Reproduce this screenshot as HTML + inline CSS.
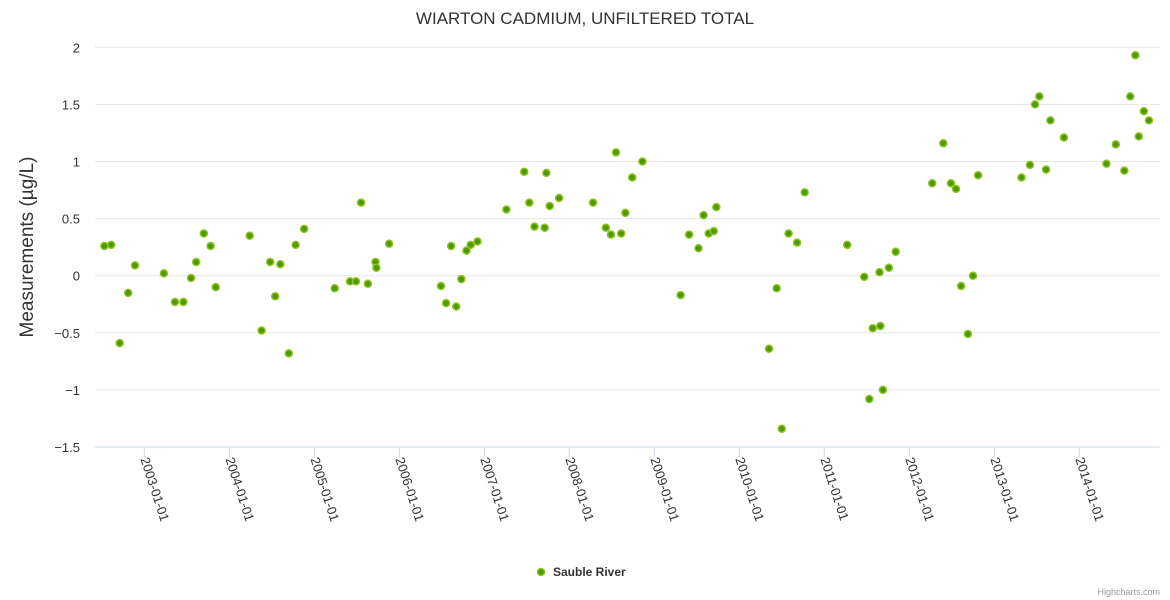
<!DOCTYPE html>
<html><head><meta charset="utf-8"><style>
html,body{margin:0;padding:0;background:#fff;width:1170px;height:600px;overflow:hidden}
svg{font-family:"Liberation Sans",Arial,sans-serif}
</style></head><body>
<svg id="chart" width="1170" height="600" xmlns="http://www.w3.org/2000/svg">
<text x="585" y="24" text-anchor="middle" font-size="17" fill="#333">WIARTON CADMIUM, UNFILTERED TOTAL</text>
<g id="grid"></g>
<g id="yaxis"></g>
<g id="xaxis"></g>
<text transform="translate(33,247) rotate(-90)" text-anchor="middle" font-size="19" fill="#333">Measurements (µg/L)</text>
<g id="points"></g>
<g>
<circle cx="541" cy="572" r="3.5" fill="#4c9a00" stroke="#8ec21f" stroke-width="1.5"/>
<text x="553" y="576" font-size="12" font-weight="bold" fill="#333">Sauble River</text>
</g>
<text x="1160" y="595" text-anchor="end" font-size="9" fill="#999">Highcharts.com</text>
</svg>
<script>
const dates=[2002.53,2002.61,2002.71,2002.81,2002.89,2003.23,2003.36,2003.46,2003.55,2003.61,2003.70,2003.78,2003.84,2004.24,2004.38,2004.48,2004.54,2004.60,2004.70,2004.78,2004.88,2005.24,2005.42,2005.49,2005.55,2005.63,2005.72,2005.73,2005.88,2006.49,2006.55,2006.61,2006.67,2006.73,2006.79,2006.84,2006.92,2007.26,2007.47,2007.53,2007.59,2007.71,2007.73,2007.77,2007.88,2008.28,2008.43,2008.49,2008.55,2008.61,2008.66,2008.74,2008.86,2009.31,2009.41,2009.52,2009.58,2009.64,2009.70,2009.73,2010.35,2010.44,2010.50,2010.58,2010.68,2010.77,2011.27,2011.47,2011.53,2011.57,2011.66,2011.65,2011.69,2011.76,2011.84,2012.27,2012.40,2012.49,2012.55,2012.61,2012.69,2012.75,2012.81,2013.32,2013.42,2013.48,2013.53,2013.61,2013.66,2013.82,2014.32,2014.43,2014.53,2014.60,2014.66,2014.70,2014.76,2014.82];
const values=[0.26,0.27,-0.59,-0.15,0.09,0.02,-0.23,-0.23,-0.02,0.12,0.37,0.26,-0.10,0.35,-0.48,0.12,-0.18,0.10,-0.68,0.27,0.41,-0.11,-0.05,-0.05,0.64,-0.07,0.12,0.07,0.28,-0.09,-0.24,0.26,-0.27,-0.03,0.22,0.27,0.30,0.58,0.91,0.64,0.43,0.42,0.90,0.61,0.68,0.64,0.42,0.36,1.08,0.37,0.55,0.86,1.00,-0.17,0.36,0.24,0.53,0.37,0.39,0.60,-0.64,-0.11,-1.34,0.37,0.29,0.73,0.27,-0.01,-1.08,-0.46,-0.44,0.03,-1.00,0.07,0.21,0.81,1.16,0.81,0.76,-0.09,-0.51,0.00,0.88,0.86,0.97,1.50,1.57,0.93,1.36,1.21,0.98,1.15,0.92,1.57,1.93,1.22,1.44,1.36];
const yTicks=[2,1.5,1,0.5,0,-0.5,-1,-1.5];
const yTickLabels=["2","1.5","1","0.5","0","−0.5","−1","−1.5"];
const xTicks=[2003,2004,2005,2006,2007,2008,2009,2010,2011,2012,2013,2014];
const xTickLabels=["2003-01-01","2004-01-01","2005-01-01","2006-01-01","2007-01-01","2008-01-01","2009-01-01","2010-01-01","2011-01-01","2012-01-01","2013-01-01","2014-01-01"];
const NS="http://www.w3.org/2000/svg";
const L=95,R=1160,T=47.3,B=447;
const xMin=2002.4196,xMax=2014.95,yMin=-1.5,yMax=2;
function sx(v){return L+(v-xMin)/(xMax-xMin)*(R-L);}
function sy(v){return B-(v-yMin)/(yMax-yMin)*(B-T);}
function mk(tag,attrs,parent){const e=document.createElementNS(NS,tag);for(const k in attrs)e.setAttribute(k,attrs[k]);parent.appendChild(e);return e;}
const grid=document.getElementById('grid'),ya=document.getElementById('yaxis'),xa=document.getElementById('xaxis'),pts=document.getElementById('points');
yTicks.forEach((t,i)=>{
  const y=sy(t);
  if(t!==yMin){const g=mk('line',{x1:L,x2:R,y1:y,y2:y,stroke:'#e6e6e6','stroke-width':1},grid);
  
  }
  const tx=mk('text',{x:80,y:y+5,'text-anchor':'end','font-size':13,fill:'#333'},ya);
  tx.textContent=yTickLabels[i];
  
  
});
const axl=mk('line',{x1:L,x2:R,y1:B,y2:B,stroke:'#ccd6eb','stroke-width':1},xa);


xTicks.forEach((t,i)=>{
  const x=sx(t);
  const tk=mk('line',{x1:x,x2:x,y1:B,y2:B+10,stroke:'#ccd6eb','stroke-width':1},xa);
  
  
  const tx=mk('text',{transform:`translate(${x-4},${B+12}) rotate(72)`,'font-size':13,fill:'#333'},xa);
  tx.textContent=xTickLabels[i];
  
  
});
dates.forEach((d,i)=>{
  const c=mk('circle',{cx:sx(d),cy:sy(values[i]),r:3.5,fill:'#4c9a00',stroke:'#8ec21f','stroke-width':1.5},pts);
  
  
});
</script>
</body></html>
